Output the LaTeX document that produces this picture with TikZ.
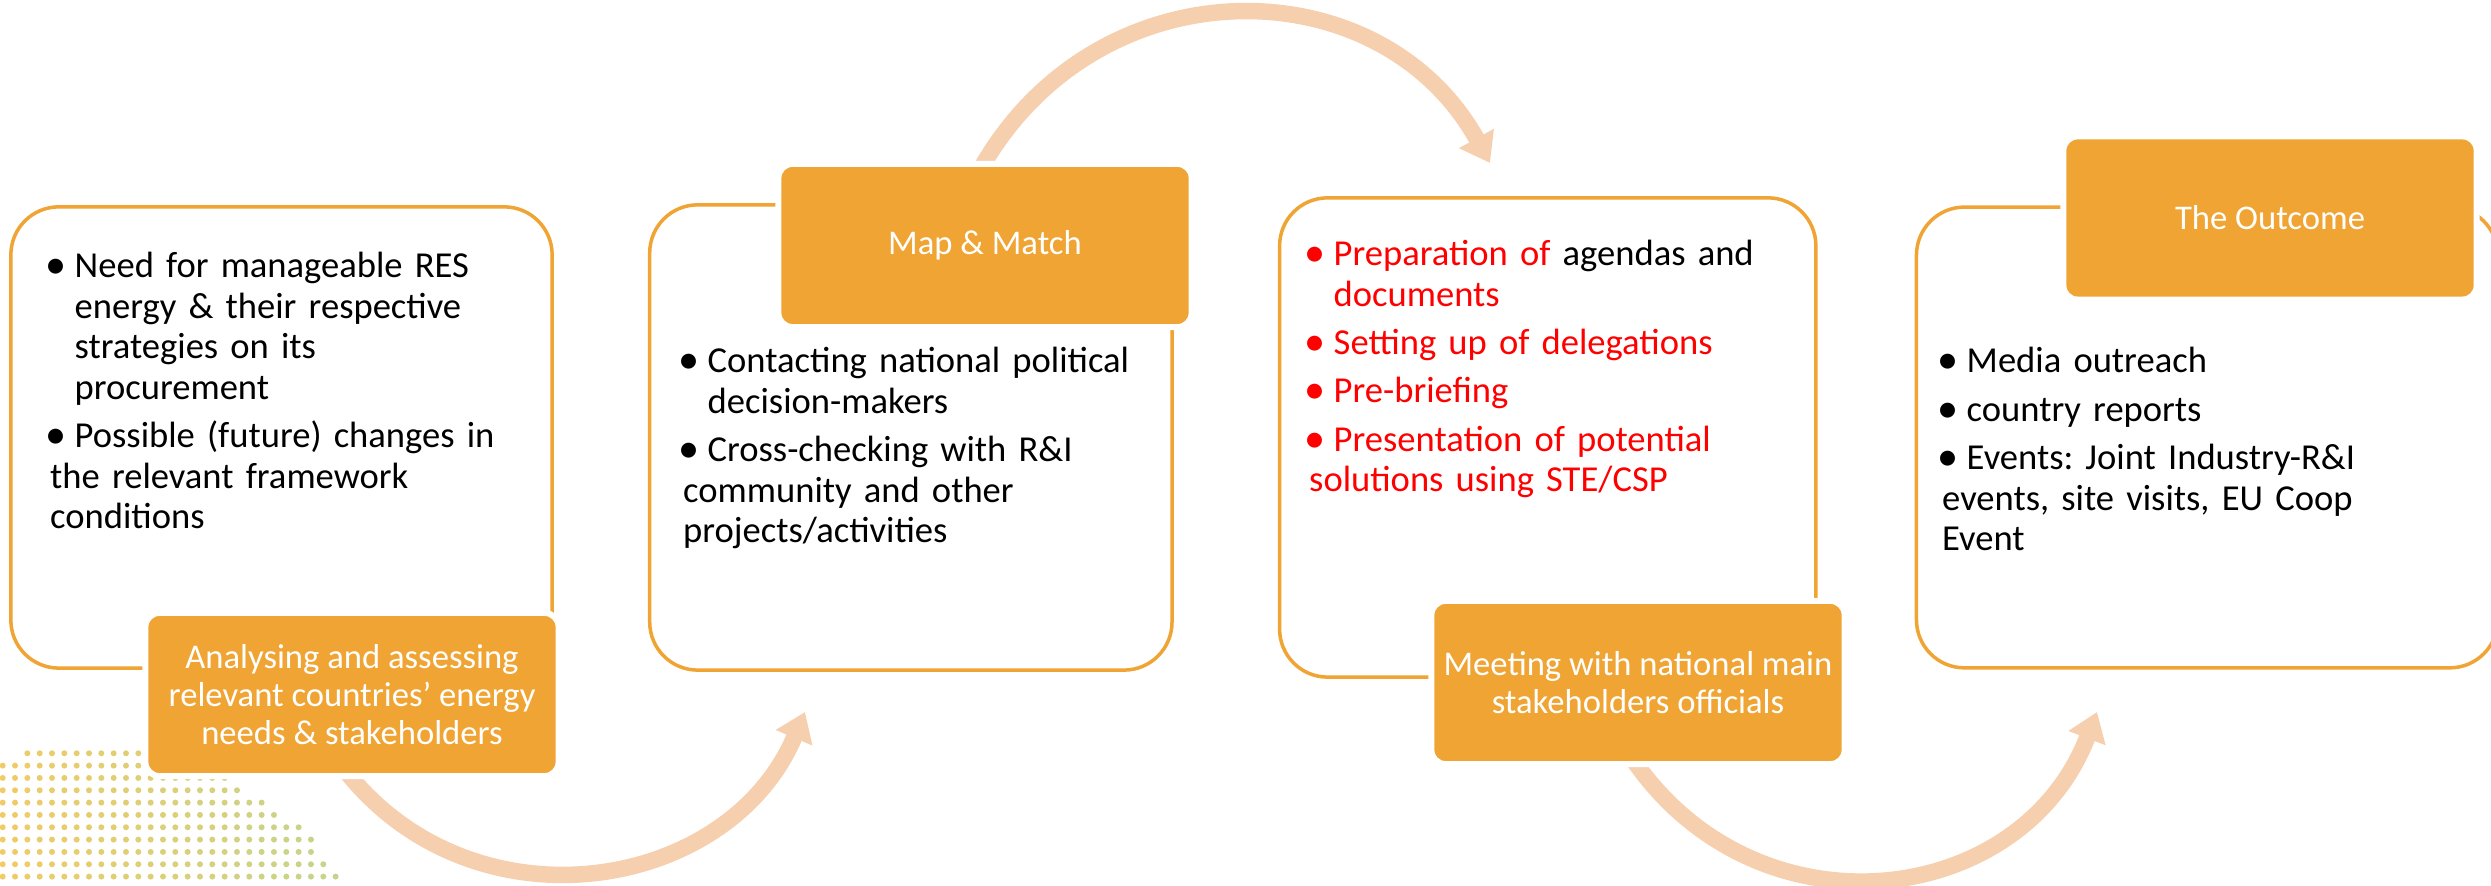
\documentclass[tikz,border=0pt]{standalone}
\usepackage{fontspec}
\setmainfont{Carlito}
\usetikzlibrary{positioning}
\usetikzlibrary{arrows.meta}
\usetikzlibrary{backgrounds}

\definecolor{accent}{HTML}{EFA433}
\definecolor{flowpeach}{HTML}{F6CFAF}
\definecolor{dotyellow}{HTML}{F0CB66}
\definecolor{dotgreen}{HTML}{C5D48C}

\newcommand\bul{\hangindent=0.245cm\hangafter=1\noindent\makebox[0.245cm][l]{\hspace{-0.045cm}\raisebox{-0.01cm}{\fontsize{12}{12}\selectfont\textbullet}}}

\begin{document}
\frenchspacing
\begin{tikzpicture}
				[x=0.01cm, y=0.01cm,
					card/.style={draw=accent,fill=white,line width=0.035cm,rounded corners=0.48cm,inner sep=0pt},
					tab/.style={fill=accent,draw=white,line width=0.06cm,rounded corners=0.14cm,
						minimum width=4.13cm,minimum height=1.63cm,text=white,align=center,
						font=\fontsize{9.85}{10.7}\selectfont},
					body/.style={anchor=base west,inner sep=0pt,text width=5.2cm,align=left,
						font=\fontsize{10.4}{11.5}\selectfont,
						execute at begin node={\setlength\parskip{0.08cm}}},
					flow/.style={draw=flowpeach,line width=0.165cm,shorten <=-0.12cm,
						-{Triangle[width=0.38cm,length=0.28cm]}}]
				\useasboundingbox (0,0) rectangle (2491,886);
				\node[card,minimum width=5.41cm,minimum height=4.61cm] (needs) at (281.5,448.5) {};
				\node[card,minimum width=5.22cm,minimum height=4.65cm,right=0.94cm of needs] (contact) {};
				\node[card,minimum width=5.36cm,minimum height=4.79cm,right=1.04cm of contact] (prepare) {};
				\node[card,minimum width=5.81cm,minimum height=4.605cm,right=0.97cm of prepare] (report) {};
				\node[tab] (analyse) at (352,191.5) {Analysing and assessing\\relevant countries’ energy\\needs \& stakeholders};
				\node[tab] (mapmatch) at (985,640.5) {Map \& Match};
				\node[tab] (meeting) at (1638,203.5) {Meeting with national main\\stakeholders officials};
				\node[tab] (outcome) at (2270,668) {The Outcome};
				\node[body] (needs-text) at (49.5,608) {\bul Need for manageable RES\newline energy \& their respective\newline strategies on its\newline procurement\par
					\bul Possible (future) changes in\newline the relevant framework\newline conditions};
				\node[body] (contact-text) at (682.5,513.2) {\bul Contacting national political\newline decision-makers\par
					\bul Cross-checking with R\&I\newline community and other\newline projects/activities};
				\node[body,text=red] (prepare-text) at (1308.5,620.4) {\bul Preparation of \textcolor{black}{agendas and}\newline documents\par
					\bul Setting up of delegations\par
					\bul Pre-briefing\par
					\bul Presentation of potential\newline solutions using STE/CSP};
				\node[body] (report-text) at (1941.5,513) {\bul Media outreach\par
					\bul country reports\par
					\bul Events: Joint Industry-R\&I\newline events, site visits, EU Coop\newline Event};
				\coordinate (tip1) at (805,174);
				\coordinate (tip2) at (1490,723);
				\coordinate (tip3) at (2097,174);
				\begin{pgfonlayer}{background}
					\foreach \r/\a/\b in {0/2/11,1/0/11,2/0/18,3/0/19,4/0/21,5/0/22,6/0/24,7/0/25,8/0/25,9/0/26,10/0/27}
						\foreach \i in {\a,...,\b}{
							\pgfmathtruncatemacro\p{min(100,\i*3.7)}
							\fill[dotgreen!\p!dotyellow] (2.7+12.33*\i,132.7-12.33*\r) circle[radius=3];
						}
					\draw[flow] (analyse.south) to[out=-52,in=247,looseness=1.1] (tip1);
					\draw[flow] (mapmatch.north) to[out=61,in=119,looseness=1.15] (tip2);
					\draw[flow] (meeting.south) to[out=-56,in=249,looseness=1.17] (tip3);
				\end{pgfonlayer}
			\end{tikzpicture}
\end{document}
